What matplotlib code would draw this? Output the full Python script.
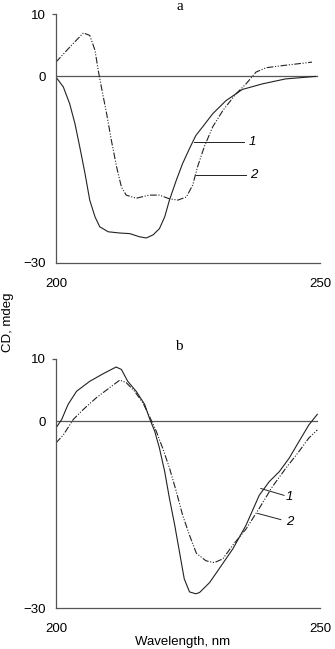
import numpy as np
import matplotlib
matplotlib.use("Agg")
import matplotlib.pyplot as plt

plt.rcParams["font.family"] = ["Liberation Sans", "DejaVu Sans"]

# ---------------------------------
# Data (CD spectra, mdeg vs nm)
# ---------------------------------
# panel a, curve 1 (solid)
a1_wl = [200, 201.4, 202.6, 203.6, 204.5, 205.5, 206.4, 207.4, 208.3, 209.9, 212.1,
         214, 215.8, 217.1, 218.4, 219.6, 220.6, 221.5, 222.8, 224, 225.3, 226.5,
         227.8, 229.7, 232.2, 235.3, 239.1, 243.5, 249.2]
a1_cd = [-0.1, -1.7, -4.4, -7.6, -11.3, -15.6, -19.9, -22.6, -24.2, -25, -25.2,
         -25.3, -25.8, -26, -25.5, -24.5, -22.6, -19.9, -16.7, -14, -11.6, -9.5,
         -8.1, -6, -3.9, -2.1, -1.2, -0.4, 0]

# panel a, curve 2 (dash-dot)
a2_wl = [200, 202.6, 205.2, 206.4, 207.4, 208, 208.6, 209.6, 210.5, 211.5, 212.4,
         213.3, 215.2, 217.7, 219.6, 221.5, 223.1, 224.7, 225.9, 226.8, 228.1,
         229.7, 231.6, 234.1, 236, 237.9, 239.8, 243.5, 248.5]
a2_cd = [2.3, 4.7, 7, 6.6, 4.2, 1, -1.7, -6, -10.3, -14.6, -17.8,
         -19.1, -19.6, -19.1, -19.1, -19.7, -19.9, -19.4, -17.5, -14.6, -11.3,
         -8.1, -5.5, -2.8, -1.2, 0.7, 1.4, 1.8, 2.3]

# panel b, curve 1 (solid)
b1_wl = [200, 201.1, 202.3, 203.9, 206.4, 208.9, 211.4, 212.4, 213.6, 215.2, 216.8,
         217.7, 218.7, 219.6, 220.6, 221.5, 222.5, 223.4, 224.3, 225.3, 226.5,
         227.2, 229.1, 230.9, 233.5, 236, 238.5, 240.4, 242.3, 244.2, 246, 247.9, 249.5]
b1_cd = [-1.1, 0.3, 2.7, 4.8, 6.4, 7.6, 8.7, 8.3, 6.4, 4.8, 2.7,
         0.5, -1.6, -4.3, -8.1, -12.4, -16.7, -21, -25.3, -27.4, -27.7,
         -27.5, -25.9, -23.7, -20.5, -16.7, -11.9, -9.7, -8.1, -5.9, -3.3, -0.6, 1.1]

# panel b, curve 2 (dash-dot)
b2_wl = [200, 201.4, 203.3, 205.2, 207.7, 210.2, 212.1, 213.3, 214.9, 216.5, 217.7,
         219, 220.2, 221.5, 222.8, 224, 225.3, 226.6, 228.4, 230, 231.6, 233.5,
         236, 238.5, 241, 243.5, 246, 247.9, 249.5]
b2_cd = [-3.5, -2.2, 0.3, 1.9, 3.8, 5.4, 6.6, 6.2, 4.8, 2.9, 0.8,
         -1.6, -4.3, -7.5, -11.3, -15.1, -18.3, -21.2, -22.4, -22.7, -22.1, -19.9,
         -17.3, -14, -10.5, -7.6, -4.9, -2.7, -1.4]

y_ticks = [-30, 0, 10]
x_ticks = [200, 250]

line_col = "#222222"
axis_col = "#555555"
dashdotdot = (0, (6, 1.5, 1, 1.5, 1, 1.5))

fig = plt.figure(figsize=(3.35, 6.49), dpi=100)
ax_a = fig.add_axes([0.167, 0.595, 0.788, 0.383])
ax_b = fig.add_axes([0.167, 0.063, 0.788, 0.384])


def style_axes(ax):
    ax.set_xlim(200, 250)
    ax.set_ylim(-30, 10)
    for s in ["top", "right"]:
        ax.spines[s].set_visible(False)
    for s in ["left", "bottom"]:
        ax.spines[s].set_color(axis_col)
        ax.spines[s].set_linewidth(0.9)
    ax.set_xticks(x_ticks)
    ax.set_yticks(y_ticks)
    ax.set_yticklabels(["\u221230", "0", "10"])
    ax.tick_params(axis="x", length=0, pad=11, labelsize=9.5)
    ax.tick_params(axis="y", length=3, width=0.9, color=axis_col, pad=4, labelsize=9.5)
    # only the top tick has a visible mark
    for t, v in zip(ax.yaxis.get_major_ticks(), y_ticks):
        if v != 10:
            t.tick1line.set_visible(False)
    ax.plot([200, 249.5], [0, 0], color=axis_col, lw=0.9)
    ax.patch.set_visible(False)


# ---------------------------------
# Panel a
# ---------------------------------
style_axes(ax_a)
ax_a.plot(a1_wl, a1_cd, color=line_col, lw=0.8)
ax_a.plot(a2_wl, a2_cd, color=line_col, lw=0.8, ls=dashdotdot)
ax_a.plot([226.2, 235.7], [-10.5, -10.5], color=line_col, lw=0.7)
ax_a.plot([226.5, 236.0], [-15.8, -15.8], color=line_col, lw=0.7)
ax_a.text(237.2, -10.5, "1", fontstyle="italic", fontsize=9.5, ha="center", va="center")
ax_a.text(237.4, -15.8, "2", fontstyle="italic", fontsize=9.5, ha="center", va="center")

# ---------------------------------
# Panel b
# ---------------------------------
style_axes(ax_b)
ax_b.plot(b1_wl, b1_cd, color=line_col, lw=0.8)
ax_b.plot(b2_wl, b2_cd, color=line_col, lw=0.8, ls=dashdotdot)
ax_b.plot([238.8, 243.2], [-10.8, -11.9], color=line_col, lw=0.7)
ax_b.plot([238.2, 242.6], [-14.8, -15.8], color=line_col, lw=0.7)
ax_b.text(244.2, -12.1, "1", fontstyle="italic", fontsize=9.5, ha="center", va="center")
ax_b.text(244.2, -16.1, "2", fontstyle="italic", fontsize=9.5, ha="center", va="center")

# panel letters and shared axis labels
fig.text(180 / 335, 1 - 7 / 649, "a", family="Liberation Serif", fontsize=11,
         ha="center", va="center")
fig.text(179 / 335, 1 - 347 / 649, "b", family="Liberation Serif", fontsize=11,
         ha="center", va="center")
fig.text(8 / 335, 1 - 322 / 649, "CD, mdeg", rotation=90, fontsize=9.5,
         ha="center", va="center")
fig.text(183 / 335, 1 - 642 / 649, "Wavelength, nm", fontsize=9.5,
         ha="center", va="center")

fig.savefig("out.png", dpi=100)
